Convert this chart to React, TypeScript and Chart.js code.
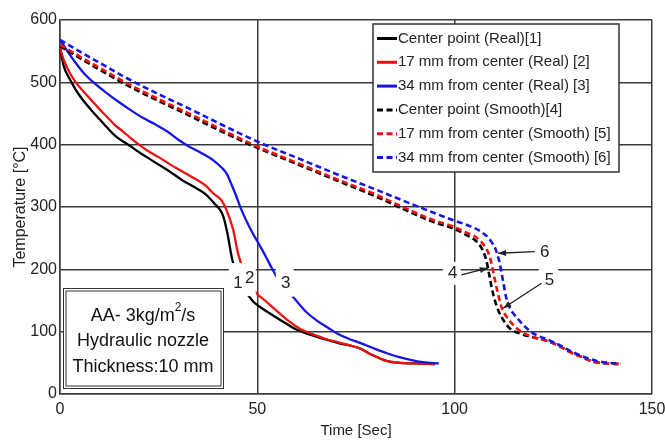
import React, { useEffect, useRef } from 'react';
import { Chart, registerables } from 'chart.js';

Chart.register(...registerables);

const FONT = '"Liberation Sans", Arial, sans-serif';

// ---- Data (time [s], temperature [°C]) ----
const centerRealT = [0, 1, 2.5, 4, 6, 8, 10, 12, 14, 16, 18, 20, 22, 25, 28, 31, 34, 37, 39.2, 40.5, 41.3, 42, 42.6, 43.5, 44.5, 46, 47.6, 49, 50.6, 53, 56, 60, 64, 67, 71, 74, 76, 79, 82.7, 86, 90, 95];
const centerRealV = [555, 525, 505, 488, 470, 455, 441, 427, 414, 405, 397, 388, 380, 368, 356, 343, 332, 320, 305, 296, 286, 270, 252, 220, 195, 172, 159, 148, 140, 130, 118, 103, 94, 88, 81, 77, 73, 63, 53, 50, 49, 48];

const mm17RealT = [0, 1, 2.5, 4, 6, 8, 10, 12, 14, 16, 18, 20, 22, 25, 28, 31, 34, 37, 38.8, 40.9, 42.2, 43.9, 45.1, 46, 47.5, 49.4, 52.3, 55, 58, 61, 64, 67, 71, 74, 76, 79, 82.7, 86, 90, 95];
const mm17RealV = [555, 535, 515, 500, 485, 471, 457, 444, 431, 421, 410, 400, 391, 380, 368, 357, 346, 334, 322, 311, 295, 263, 226, 207, 183, 164, 148, 133, 117, 104, 96, 89, 82, 77, 73, 63, 53, 50, 49, 48];

const mm34RealT = [0, 2, 4, 6, 9, 12, 15, 18, 21, 24, 27, 30, 33, 36, 39, 41, 42.2, 43, 44.5, 46, 48, 49.8, 51.5, 53, 54.9, 57, 59, 62, 65, 68, 70, 73, 76, 80, 83, 86, 89.4, 92, 96];
const mm34RealV = [568, 549, 531, 515, 497, 482, 468, 455, 443, 433, 422, 408, 396, 386, 374, 363, 354, 343, 320, 295, 268, 247, 228, 210, 188, 170, 156, 134, 118, 106, 98, 89, 82, 72, 65, 59, 54, 51, 49];

const centerSmoothT = [0, 9, 18, 26, 33, 41, 50, 60, 70, 80, 88.6, 95, 99.5, 103, 105.5, 107, 108, 108.8, 109.4, 110.2, 111.2, 112.5, 114, 116.5, 120.5, 124, 126.5, 129, 132, 135, 138.5, 142];
const centerSmoothV = [558, 524, 492, 467, 446, 421, 395, 369, 343, 317, 292, 275, 266, 255, 245, 232, 215, 190, 170, 150, 132, 117, 105, 97, 90, 84, 77, 68, 60, 52, 49, 48];

const mm17SmoothT = [0, 9, 18, 26, 33, 41, 50, 60, 70, 80, 88.6, 95, 99.5, 103, 105.5, 107.5, 108.9, 110.2, 111, 112, 113.5, 115, 117, 120.7, 124, 126.5, 129, 132, 135, 138.5, 142];
const mm17SmoothV = [560, 527, 495, 470, 449, 424, 397, 371, 345, 320, 295, 278, 269, 259, 251, 238, 220, 183, 160, 137, 121, 110, 99, 90, 84, 77, 68, 60, 52, 49, 48];

const mm34SmoothT = [0, 9, 18, 26, 33, 41, 50, 60, 70, 80, 88.6, 95, 99.5, 104, 107, 109, 110.5, 111.4, 112.3, 113, 114, 115, 116.5, 118, 120, 124, 127, 130, 133, 136, 139, 142];
const mm34SmoothV = [568, 535, 503, 478, 457, 432, 405, 379, 353, 328, 306, 290, 279, 269, 259, 247, 230, 210, 180, 156, 138, 128, 117, 107, 97, 86, 77, 67, 59, 53, 50, 49];

const seriesLabels = [
  'Center point (Real)[1]',
  '17 mm from center (Real) [2]',
  '34 mm from center (Real) [3]',
  'Center point (Smooth)[4]',
  '17 mm from center (Smooth) [5]',
  '34 mm from center (Smooth) [6]',
];

// annotation labels (data coords)
const curveLabels = [
  { text: '1', t: 45.1, v: 178 },
  { text: '2', t: 48.1, v: 186 },
  { text: '3', t: 57.2, v: 177 },
  { text: '4', t: 99.5, v: 194 },
  { text: '6', t: 122.8, v: 228 },
  { text: '5', t: 124.0, v: 183 },
];
const labelMasks = [
  { t0: 42.8, t1: 49.6, v0: 157, v1: 210 },
  { t0: 54.7, t1: 59.2, v0: 156, v1: 207 },
  { t0: 97.0, t1: 101.5, v0: 175, v1: 212 },
  { t0: 121.3, t1: 126.2, v0: 165, v1: 212 },
];
const arrows = [
  { from: [101.7, 191], to: [108.4, 202] },
  { from: [120.3, 228.4], to: [111.0, 225.8] },
  { from: [122.0, 177.7], to: [112.3, 137.6] },
];

const boxLines = ['AA- 3kg/m', 'Hydraulic nozzle', 'Thickness:10 mm'];

const zip = (t: number[], v: number[]) => t.map((x, i) => ({ x, y: v[i] }));

const annotationPlugin = {
  id: 'annotations',
  afterDatasetsDraw(chart: any) {
    const ctx = chart.ctx;
    const xs = chart.scales.x;
    const ys = chart.scales.y;
    const a = chart.chartArea;
    ctx.save();
    // masks
    ctx.fillStyle = '#ffffff';
    labelMasks.forEach((m) => {
      const x0 = xs.getPixelForValue(m.t0);
      const x1 = xs.getPixelForValue(m.t1);
      const y0 = ys.getPixelForValue(m.v1);
      const y1 = ys.getPixelForValue(m.v0);
      ctx.fillRect(x0, y0, x1 - x0, y1 - y0);
    });
    // labels
    ctx.fillStyle = '#222';
    ctx.font = '17px ' + FONT;
    ctx.textAlign = 'center';
    ctx.textBaseline = 'middle';
    curveLabels.forEach((l) => {
      ctx.fillText(l.text, xs.getPixelForValue(l.t), ys.getPixelForValue(l.v));
    });
    // arrows
    ctx.strokeStyle = '#222';
    ctx.lineWidth = 1.3;
    arrows.forEach((ar) => {
      const x0 = xs.getPixelForValue(ar.from[0]);
      const y0 = ys.getPixelForValue(ar.from[1]);
      const x1 = xs.getPixelForValue(ar.to[0]);
      const y1 = ys.getPixelForValue(ar.to[1]);
      ctx.beginPath();
      ctx.moveTo(x0, y0);
      ctx.lineTo(x1, y1);
      ctx.stroke();
      const ang = Math.atan2(y1 - y0, x1 - x0);
      const L = 8, W = 3;
      ctx.beginPath();
      ctx.moveTo(x1, y1);
      ctx.lineTo(x1 - L * Math.cos(ang) + W * Math.sin(ang), y1 - L * Math.sin(ang) - W * Math.cos(ang));
      ctx.lineTo(x1 - L * Math.cos(ang) - W * Math.sin(ang), y1 - L * Math.sin(ang) + W * Math.cos(ang));
      ctx.closePath();
      ctx.fillStyle = '#222';
      ctx.fill();
    });

    // text box
    const bx = a.left + 3;
    const by = a.bottom - 106;
    const bw = 160;
    const bh = 100;
    ctx.fillStyle = '#fff';
    ctx.fillRect(bx, by, bw, bh);
    ctx.strokeStyle = '#333';
    ctx.lineWidth = 1;
    ctx.strokeRect(bx + 0.5, by + 0.5, bw, bh);
    ctx.strokeRect(bx + 3, by + 3, bw - 5, bh - 5);
    ctx.fillStyle = '#111';
    ctx.textBaseline = 'middle';
    const cx = bx + 80;
    // line 1 with superscript
    ctx.font = '18px ' + FONT;
    const w1 = ctx.measureText(boxLines[0]).width;
    ctx.font = '12px ' + FONT;
    const w2 = ctx.measureText('2').width;
    ctx.font = '18px ' + FONT;
    const w3 = ctx.measureText('/s').width;
    let sx = cx - (w1 + w2 + w3) / 2;
    ctx.textAlign = 'left';
    ctx.fillText(boxLines[0], sx, by + 28);
    sx += w1;
    ctx.font = '12px ' + FONT;
    ctx.fillText('2', sx, by + 20);
    sx += w2;
    ctx.font = '18px ' + FONT;
    ctx.fillText('/s', sx, by + 28);
    ctx.textAlign = 'center';
    ctx.fillText(boxLines[1], cx, by + 53);
    ctx.fillText(boxLines[2], cx, by + 79);

    // legend
    const lx = a.left + 313;
    const ly = a.top + 4;
    const lw = 246;
    const lh = 148;
    ctx.fillStyle = '#fff';
    ctx.fillRect(lx, ly, lw, lh);
    ctx.strokeStyle = '#333';
    ctx.lineWidth = 1.5;
    ctx.strokeRect(lx, ly, lw, lh);
    ctx.font = '15px ' + FONT;
    ctx.textAlign = 'left';
    ctx.textBaseline = 'middle';
    chart.data.datasets.forEach((ds: any, i: number) => {
      const y = ly + 14.5 + i * 23.8;
      ctx.strokeStyle = ds.borderColor;
      ctx.lineWidth = 3;
      ctx.setLineDash(ds.borderDash || []);
      ctx.beginPath();
      ctx.moveTo(lx + 4, y);
      ctx.lineTo(lx + 24, y);
      ctx.stroke();
      ctx.setLineDash([]);
      ctx.fillStyle = '#222';
      ctx.fillText(ds.label, lx + 25, y);
    });
    ctx.restore();
  },
};

export default function App() {
  const ref = useRef<HTMLCanvasElement | null>(null);
  useEffect(() => {
    if (!ref.current) return;
    const colors = ['#000000', '#ee1111', '#1515e6', '#000000', '#ee1111', '#1515e6'];
    const sets = [
      zip(centerRealT, centerRealV),
      zip(mm17RealT, mm17RealV),
      zip(mm34RealT, mm34RealV),
      zip(centerSmoothT, centerSmoothV),
      zip(mm17SmoothT, mm17SmoothV),
      zip(mm34SmoothT, mm34SmoothV),
    ];
    const chart = new Chart(ref.current, {
      type: 'line',
      data: {
        datasets: sets.map((d, i) => ({
          label: seriesLabels[i],
          data: d,
          borderColor: colors[i],
          borderWidth: i < 3 ? 2.3 : 2.6,
          borderDash: i < 3 ? [] : [6, 3.5],
          pointRadius: 0,
          fill: false,
          cubicInterpolationMode: 'monotone',
          order: 5 - i,
        })),
      },
      options: {
        responsive: false,
        animation: false,
        events: [],
        layout: { padding: { top: 20, right: 13, left: 0, bottom: 0 } },
        plugins: { legend: { display: false }, tooltip: { enabled: false }, title: { display: false } },
        scales: {
          x: {
            type: 'linear',
            min: 0,
            max: 150,
            afterFit: (s: any) => { s.height = 47; s.paddingLeft = 0; s.paddingRight = 0; },
            ticks: { stepSize: 50, color: '#222', font: { size: 16, family: FONT }, padding: 6, maxRotation: 0 },
            grid: { color: '#3a3a3a', lineWidth: 1.5, drawTicks: false },
            border: { color: '#3a3a3a', width: 1.5 },
            title: { display: true, text: 'Time [Sec]', color: '#222', font: { size: 15, family: FONT }, padding: { top: 0, bottom: 1 } },
          },
          y: {
            min: 0,
            max: 600,
            afterFit: (s: any) => { s.width = 60; s.paddingTop = 0; s.paddingBottom = 0; },
            ticks: { stepSize: 100, color: '#222', font: { size: 16, family: FONT }, padding: 3 },
            grid: { color: '#3a3a3a', lineWidth: 1.5, drawTicks: false },
            border: { color: '#3a3a3a', width: 1.5 },
            title: { display: true, text: 'Temperature [°C]', color: '#222', font: { size: 16, family: FONT }, padding: { top: 11, bottom: 0 } },
          },
        },
      },
      plugins: [annotationPlugin],
    } as any);
    return () => chart.destroy();
  }, []);
  return (
    <div style={{ position: 'fixed', left: 0, top: 0, width: 665, height: 441, background: '#fff' }}>
      <canvas ref={ref} width={665} height={441} style={{ display: 'block' }} />
    </div>
  );
}
